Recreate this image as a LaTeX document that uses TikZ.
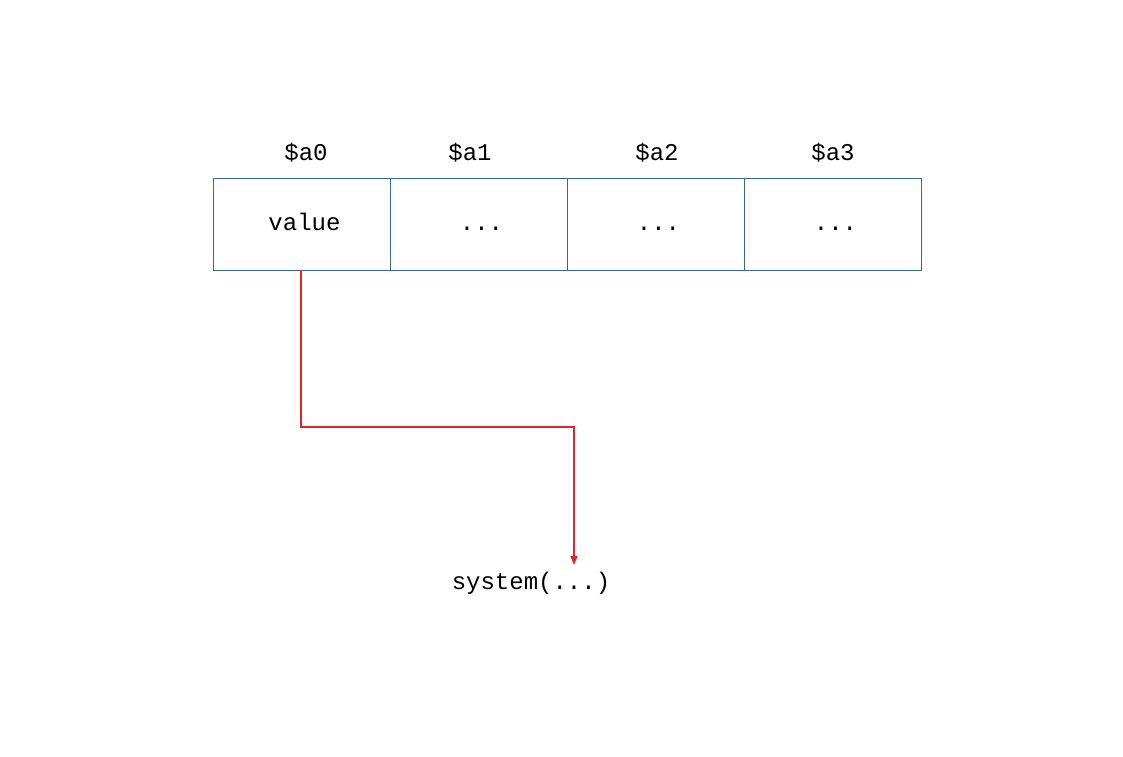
\documentclass[tikz,border=0pt]{standalone}
\usepackage{fontspec}
\setmainfont{Liberation Mono}
\usetikzlibrary{arrows.meta}
\definecolor{boxblue}{HTML}{3465A4}
\definecolor{arrred}{HTML}{E3242B}
\newcommand{\celltext}[1]{\hspace*{5pt}\smash{\raisebox{-6pt}{#1}}}
\begin{document}
\begin{tikzpicture}[x=1pt,y=-1pt,
  cell/.style={draw=boxblue,line width=1pt,minimum width=177pt,minimum height=92pt,inner sep=0pt,anchor=north west,font=\fontsize{24}{28}\selectfont},
  lbl/.style={font=\fontsize{24}{28}\selectfont,inner sep=0pt},
  redline/.style={draw=arrred,line width=1.2pt,-{Triangle[length=9pt,width=7pt]}}]
\useasboundingbox (0,0) rectangle (1123,756);
\fill[white] (0,0) rectangle (1123,756);
\node[cell] (c0) at (213,178) {\celltext{value}};
\node[cell] (c1) at (390,178) {\celltext{...}};
\node[cell] (c2) at (567,178) {\celltext{...}};
\node[cell] (c3) at (744,178) {\celltext{...}};
\node[lbl] (l0) at (306,153) {\$a0};
\node[lbl] (l1) at (470,153) {\$a1};
\node[lbl] (l2) at (657,153) {\$a2};
\node[lbl] (l3) at (833,153) {\$a3};
\node[lbl] (sys) at (531,583) {system(...)};
\coordinate (s) at (301,270);
\coordinate (t) at (574,565);
\draw[redline] (s) |- (574,427) -- (t);
\end{tikzpicture}
\end{document}
